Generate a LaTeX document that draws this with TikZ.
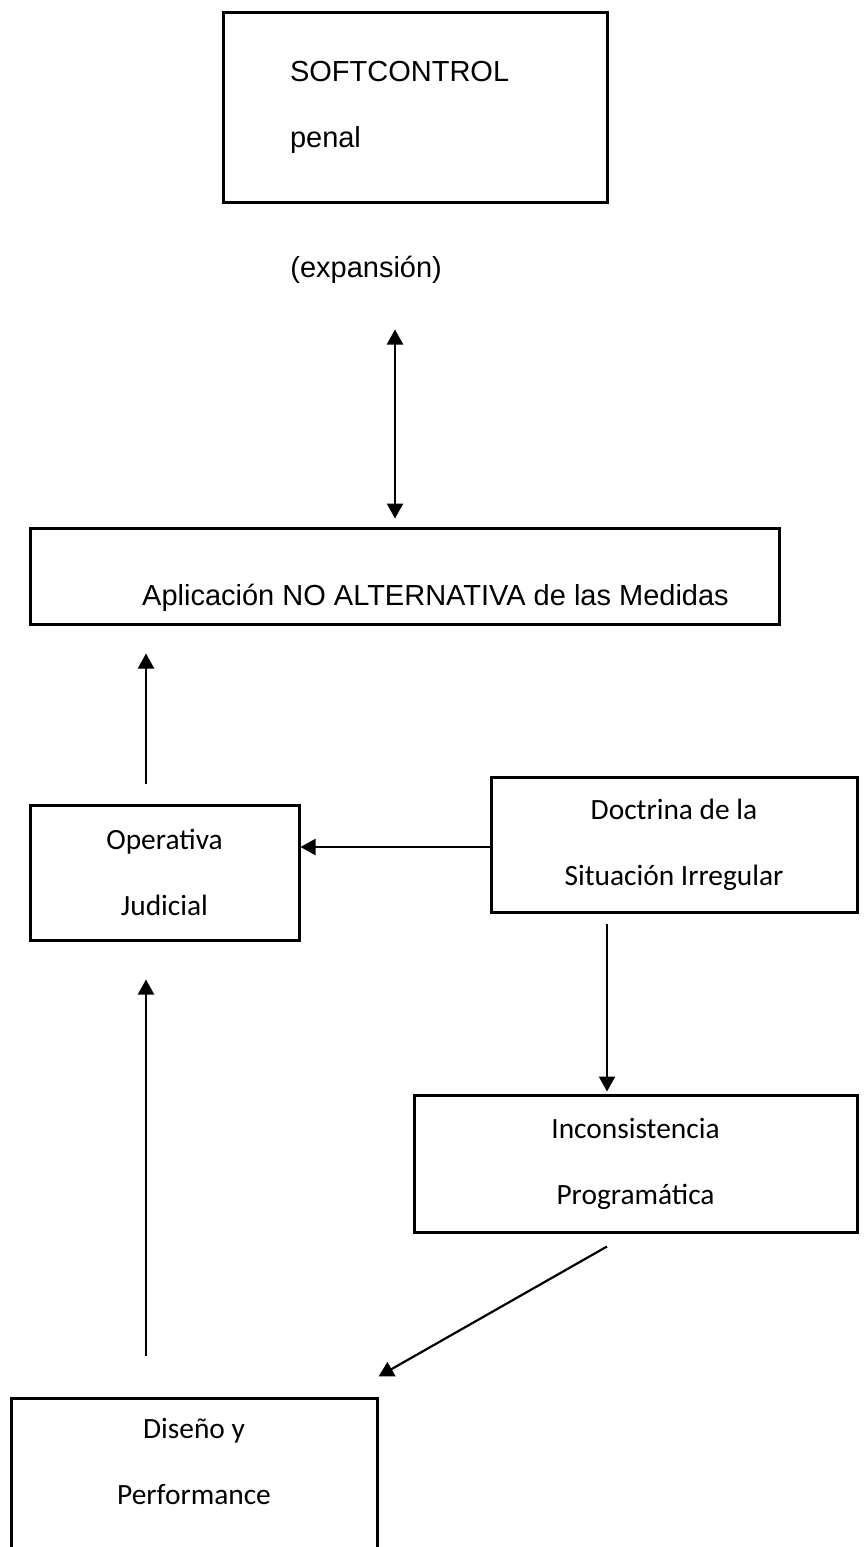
\documentclass[tikz,border=0pt]{standalone}
\usepackage{fontspec}
\setmainfont{Liberation Sans}
\newfontfamily\carlito{Carlito}
\usepackage{tikz}
\usetikzlibrary{positioning,calc,arrows.meta}
\tikzset{
	caja/.style={rectangle,draw,line width=1.5pt,inner sep=0pt},
	arial/.style={font=\fontsize{14.5}{33}\selectfont},
	calibri/.style={font=\carlito\fontsize{14.7}{33}\selectfont,align=center},
	flecha/.style={line width=1.1pt,>={Triangle[length=7.5pt,width=8pt]}}
}

\begin{document}
\begin{tikzpicture}[x=0.5pt,y=-0.5pt]
		\useasboundingbox (0,0) rectangle (864,1547);
		
		\node[caja,arial,minimum width=192pt,minimum height=95pt,text width=125pt,align=left] (SC) at (415,107) {SOFTCONTROL\\penal};
		
		\node[arial,anchor=west,inner sep=0pt] (EX) at (290,270) {(expansión)};
		
		\node[caja,arial,minimum width=374.5pt,minimum height=48pt,align=center] (ANA) at (404.5,576) {\mbox{}\\\hspace*{31pt}Aplicación NO ALTERNATIVA de las Medidas};
		
		\node[caja,calibri,minimum width=134.5pt,minimum height=67.5pt] (OJ) at (164.5,872.5) {Operativa\\Judicial};
		
		\node[caja,calibri,minimum width=183pt,minimum height=67.5pt] (DSI) at (674,844.5) {Doctrina de la\\Situación Irregular};
		
		\node[caja,calibri,minimum width=221.5pt,minimum height=68.5pt] (IP) at (635.5,1163.5) {Inconsistencia\\Programática};
		
		% la caja de abajo sigue fuera de la hoja
		\node[caja,calibri,minimum width=183pt,minimum height=96.5pt] (DP) at (194,1494.5) {Diseño y\\Performance\\\mbox{}};
		
		%\draw[flecha,<->] (SC) -- (ANA);
		\draw[flecha,<->,shorten <=63pt,shorten >=4pt] ([xshift=-10pt]SC.south) -- ([xshift=-10pt]SC.south |- ANA.north);
		\draw[flecha,->,shorten <=10pt,shorten >=14pt] ([xshift=-9.25pt]OJ.north) -- ([xshift=-9.25pt]OJ.north |- ANA.south);
		\draw[flecha,->] ([yshift=-1.25pt]DSI.west) -- ([yshift=-1.25pt]DSI.west -| OJ.east);
		\draw[flecha,->,shorten <=5pt,shorten >=1pt] ([xshift=-33.5pt]DSI.south) -- ([xshift=-33.5pt]DSI.south |- IP.north);
		\draw[flecha,->] ($(IP.south)+(-28.5,13)$) -- ($(DP.north east)+(0,-20)$);
		\draw[flecha,->,shorten <=20.5pt,shorten >=19pt] ([xshift=-24pt]DP.north) -- ([xshift=-24pt]DP.north |- OJ.south);
		
\end{tikzpicture}
\end{document}
